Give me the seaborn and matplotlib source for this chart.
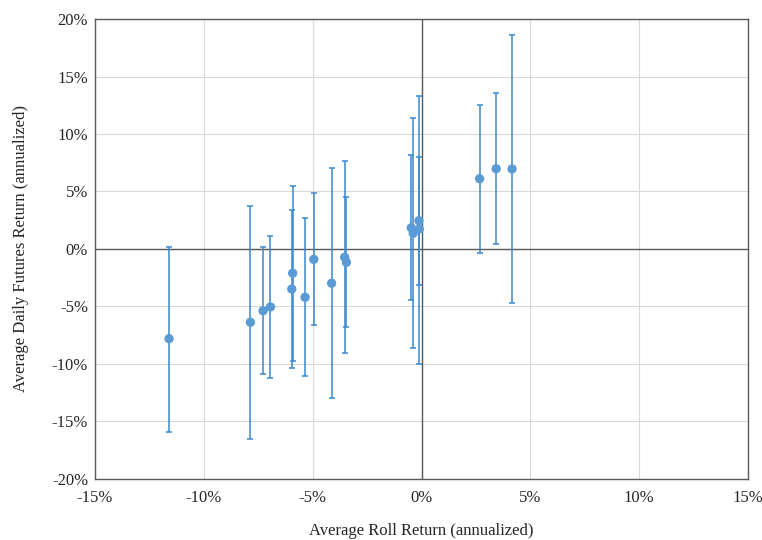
import matplotlib
matplotlib.use("Agg")
import matplotlib.pyplot as plt
import seaborn as sns
import pandas as pd
from matplotlib.ticker import FuncFormatter

sns.set_theme(style="white")
plt.rcParams["font.family"] = ["Liberation Serif", "DejaVu Serif"]

# roll return (x), futures return (y), error bar ends -- all in %
roll_ret = [-11.6, -7.86, -7.28, -6.94, -5.96, -5.92, -5.35, -4.95, -4.13, -3.53, -3.45,
            -0.47, -0.38, -0.12, -0.10, 2.67, 3.43, 4.16]
fut_ret = [-7.8, -6.37, -5.37, -5.04, -3.48, -2.1, -4.2, -0.9, -2.98, -0.72, -1.16,
           1.85, 1.37, 2.46, 1.74, 6.11, 6.98, 6.96]
err_top = [0.2, 3.71, 0.15, 1.1, 3.37, 5.5, 2.67, 4.87, 7.07, 7.65, 4.5,
           8.15, 11.37, 13.33, 8.0, 12.55, 13.54, 18.63]
err_bottom = [-15.9, -16.5, -10.84, -11.2, -10.37, -9.74, -11.07, -6.63, -13.0, -9.04, -6.8,
              -4.46, -8.63, -9.97, -3.13, -0.32, 0.43, -4.7]

df = pd.DataFrame({"roll": roll_ret, "fut": fut_ret, "top": err_top, "bottom": err_bottom})

fig = plt.figure(figsize=(7.62, 5.40), dpi=100)
ax = fig.add_axes([0.1247, 0.1130, 0.8569, 0.8518])

# grid and zero lines
ax.set_axisbelow(True)
ax.grid(True, color="#d9d9d9", linewidth=0.8)
ax.axhline(0, color="#595959", linewidth=1.0, zorder=1)
ax.axvline(0, color="#595959", linewidth=1.0, zorder=1)

# error bars
ax.errorbar(df["roll"], df["fut"],
            yerr=[df["fut"] - df["bottom"], df["top"] - df["fut"]],
            fmt="none", ecolor="#3a87cc", elinewidth=1.1, capsize=2.5, capthick=1.1, zorder=2)

sns.scatterplot(x="roll", y="fut", data=df, ax=ax, color="#5b9bd5", s=45,
                edgecolor="none", zorder=3, legend=False)

ax.set_xlim(-15, 15)
ax.set_ylim(-20, 20)
ax.set_xticks(range(-15, 16, 5))
ax.set_yticks(range(-20, 21, 5))
pct = FuncFormatter(lambda v, p: f"{v:.0f}%")
ax.xaxis.set_major_formatter(pct)
ax.yaxis.set_major_formatter(pct)
ax.tick_params(axis="both", labelsize=12, length=0, colors="#262626")
ax.tick_params(axis="x", pad=8)
ax.tick_params(axis="y", pad=5)

for s in ax.spines.values():
    s.set_color("#595959")
    s.set_linewidth(1.0)

ax.set_xlabel("Average Roll Return (annualized)", fontsize=12, color="#262626", labelpad=12)
ax.set_ylabel("Average Daily Futures Return (annualized)", fontsize=12, color="#262626", labelpad=16)

plt.savefig("out.png", dpi=100)
plt.close()
